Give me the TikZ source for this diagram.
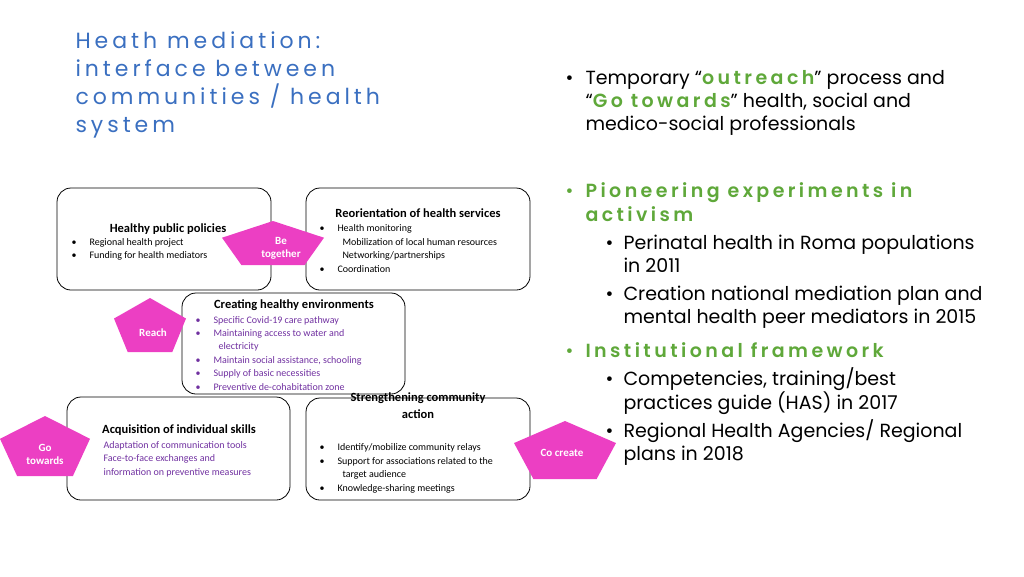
\documentclass[tikz,border=0pt]{standalone}
\usepackage{fontspec}
\setmainfont{Carlito}
\newfontfamily\gothic{Poppins}
\newfontfamily\gothicsp[LetterSpace=18]{Poppins}
\newfontfamily\gothicspb[LetterSpace=18]{Poppins SemiBold}
\definecolor{tblue}{HTML}{3A6FC0}
\definecolor{tgreen}{HTML}{5FA83A}
\definecolor{mag}{HTML}{EC3FC3}
\definecolor{purp}{HTML}{7030A0}
\newcommand{\pent}[5]{%
 \fill[mag] (#1,#2-#4/2) -- (#1+#3/2,#2-0.12*#4) -- (#1+0.31*#3,#2+#4/2) -- (#1-0.31*#3,#2+#4/2) -- (#1-#3/2,#2-0.12*#4) -- cycle;
 \node[font=\bfseries\fontsize{11}{13}\selectfont,text=white,align=center] (#5) at (#1,#2+3) {};}
\begin{document}
\begin{tikzpicture}[x=1pt,y=-1pt,
 box/.style={draw,rounded corners=14pt,line width=0.8pt},
 head/.style={font=\bfseries\fontsize{12.5}{14}\selectfont,anchor=base,align=center},
 bl/.style={font=\fontsize{10}{12.5}\selectfont,anchor=base west,align=left},
 pt/.style={text=white,font=\bfseries\fontsize{11}{13}\selectfont,align=center},
 rt/.style={font=\gothic\fontsize{19}{23}\selectfont,anchor=base west,align=left}]
\useasboundingbox (0,0) rectangle (1024,576);
% title
\node[anchor=north west,align=left,text=tblue,font=\gothicsp\fontsize{22}{28}\selectfont] (title) at (72,28)
 {Heath mediation:\\interface between\\communities / health\\system};
% boxes
\draw[box] (57,188) rectangle (271,290);
\draw[box] (306,188) rectangle (530,290);
\draw[box] (182,293) rectangle (405,394);
\draw[box] (67,397) rectangle (290,500);
\draw[box] (306,398) rectangle (530,500);
% box 1
\node[head] (h1) at (168,232) {Healthy public policies};
\node[bl] (b1) at (68,245) {•\hspace{13pt}Regional health project};
\node[bl] (b1b) at (68,258) {•\hspace{13pt}Funding for health mediators};
% box 2
\node[head] (h2) at (418,217) {Reorientation of health services};
\node[bl] (b2) at (316,231) {•\hspace{13pt}Health monitoring};
\node[bl] (b2b) at (339,245) {Mobilization of local human resources};
\node[bl] (b2c) at (339,258) {Networking/partnerships};
\node[bl] (b2d) at (316,272) {•\hspace{13pt}Coordination};
% box 3
\node[head] (h3) at (294,308) {Creating healthy environments};
\begin{scope}[every node/.append style={text=purp}]
\node[bl] (b3) at (192,323) {•\hspace{13pt}Specific Covid-19 care pathway};
\node[bl] (b3b) at (192,336) {•\hspace{13pt}Maintaining access to water and};
\node[bl] (b3c) at (215,349) {electricity};
\node[bl] (b3d) at (192,363) {•\hspace{13pt}Maintain social assistance, schooling};
\node[bl] (b3e) at (192,376) {•\hspace{13pt}Supply of basic necessities};
\node[bl] (b3f) at (192,390) {•\hspace{13pt}Preventive de-cohabitation zone};
\node[bl] (b4) at (100,448) {Adaptation of communication tools};
\node[bl] (b4b) at (100,461) {Face-to-face exchanges and};
\node[bl] (b4c) at (100,475) {information on preventive measures};
\end{scope}
\node[head] (h4) at (179,433) {Acquisition of individual skills};
% box 5
\node[head,font=\bfseries\fontsize{12.5}{17}\selectfont] (h5) at (418,418) {Strengthening community\\action};
\node[bl] (b5) at (316,450) {•\hspace{13pt}Identify/mobilize community relays};
\node[bl] (b5b) at (316,464) {•\hspace{13pt}Support for associations related to the};
\node[bl] (b5c) at (339,477) {target audience};
\node[bl] (b5d) at (316,491) {•\hspace{13pt}Knowledge-sharing meetings};
% pentagons
\pent{273}{243}{102}{44}{pa}
\node[pt] (pat) at (281,248) {Be\\together};
\pent{150}{325}{72}{54}{pb}
\node[pt] (pbt) at (153,333) {Reach};
\pent{45}{446}{90}{60}{pc}
\node[pt] (pct) at (45,454) {Go\\towards};
\pent{565}{450}{102}{58}{pd}
\node[pt] (pdt) at (562,453) {Co create};
% right text
\node[rt] (r1) at (562,84) {•};
\node[rt] (r1t) at (582,84) {Temporary “{\gothicspb\color{tgreen}outreach}” process and};
\node[rt] (r2) at (582,107) {“{\gothicspb\color{tgreen}Go towards}” health, social and};
\node[rt] (r3) at (582,130) {medico-social professionals};
\node[rt,text=tgreen] (r4) at (562,197) {•};
\node[rt,text=tgreen,font=\gothicspb\fontsize{19}{23}\selectfont] (r4t) at (582,197) {Pioneering experiments in};
\node[rt,text=tgreen,font=\gothicspb\fontsize{19}{23}\selectfont] (r4u) at (582,221) {activism};
\node[rt] (r5) at (602,249) {•};
\node[rt] (r5t) at (620,249) {Perinatal health in Roma populations};
\node[rt] (r5u) at (620,272) {in 2011};
\node[rt] (r6) at (602,300) {•};
\node[rt] (r6t) at (620,300) {Creation national mediation plan and};
\node[rt] (r6u) at (620,323) {mental health peer mediators in 2015};
\node[rt,text=tgreen] (r7) at (562,357) {•};
\node[rt,text=tgreen,font=\gothicspb\fontsize{19}{23}\selectfont] (r7t) at (582,357) {Institutional framework};
\node[rt] (r8) at (602,385) {•};
\node[rt] (r8t) at (620,385) {Competencies, training/best};
\node[rt] (r8u) at (620,409) {practices guide (HAS) in 2017};
\node[rt] (r9) at (602,437) {•};
\node[rt] (r9t) at (620,437) {Regional Health Agencies/ Regional};
\node[rt] (r9u) at (620,460) {plans in 2018};
\end{tikzpicture}
\end{document}
